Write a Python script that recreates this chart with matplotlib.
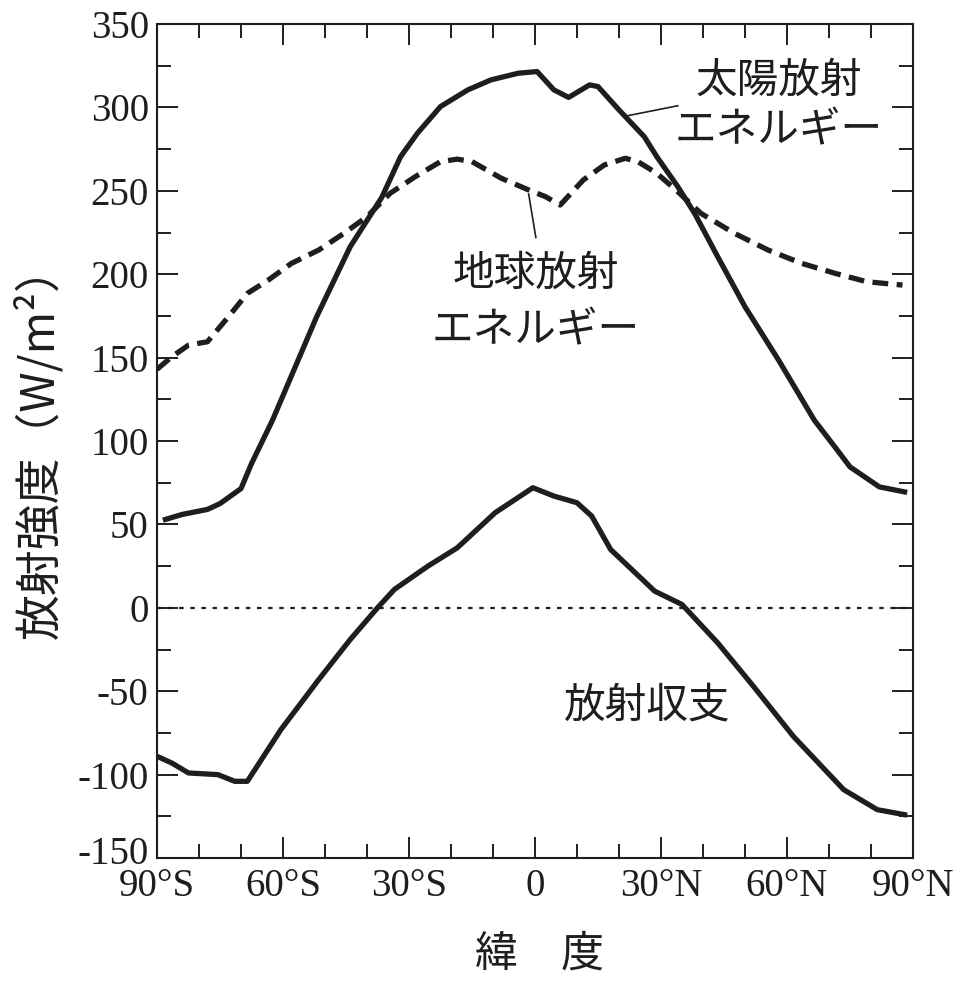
import matplotlib
matplotlib.use("Agg")
import matplotlib.pyplot as plt
from matplotlib.ticker import MultipleLocator
from matplotlib.transforms import ScaledTranslation

# latitude in degrees (south negative), values in W/m2
solar_lat = [-88, -84, -78, -75, -70, -67.5, -62.5, -52, -44, -36.5, -32, -28,
             -22.5, -16, -10.5, -4, 0.5, 4.5, 8, 13, 15, 20, 26, 29, 34, 38,
             43.5, 50, 58, 66.5, 72, 75, 82, 88]
solar_val = [53, 56, 59, 62.5, 71.5, 86.5, 112.5, 174.5, 216.5, 246, 270.5, 284.5,
             300.5, 310.5, 316.5, 320.5, 321.5, 310.5, 306, 313.5, 312.5, 298.5,
             282.5, 270.5, 252.5, 236.5, 210.5, 180.5, 148.5, 112.5, 94.5, 84.5,
             72.5, 69.5]

olr_lat = [-90, -86.5, -82.5, -78, -73, -68.5, -63.5, -58, -51.5, -45.5, -40,
           -34.5, -28.5, -22.5, -18.5, -15, -8, -1.5, 2.5, 6, 11.5, 16.5, 21.5,
           24.5, 29, 34, 39.5, 47.5, 55.5, 63.5, 71.5, 79, 87.5]
olr_val = [143, 150.5, 157.5, 159.5, 174.5, 188.5, 196.5, 206.5, 214.5, 224.5,
           234.5, 248.5, 258.5, 267.5, 269, 267.5, 257.5, 250.5, 246.5, 241.5,
           256.5, 265.5, 269.5, 267.5, 260.5, 249.5, 236.5, 224.5, 214.5, 206.5,
           200.5, 195.5, 193.5]

net_lat = [-90, -86.5, -82.5, -75.5, -71.5, -68.5, -60.5, -51.5, -44, -37.5,
           -33.5, -25.5, -18.5, -9.5, -0.5, 4.5, 10, 13.5, 18, 28.5, 35, 43.5,
           52, 61.5, 73.5, 81.5, 88]
net_val = [-89, -93, -99, -100, -104, -104, -73, -43, -19, 0, 11, 25, 36, 57,
           72, 67, 63, 55, 35, 10, 2, -21, -47, -77, -109, -121, -124]

xticks = [-90, -60, -30, 0, 30, 60, 90]
xlabels = ["90°S", "60°S", "30°S", "0", "30°N", "60°N", "90°N"]

JP = ["Noto Sans CJK JP", "DejaVu Sans"]
SERIF = "Liberation Serif"
INK = "#1e1e1e"

plt.rcParams["axes.unicode_minus"] = False

fig = plt.figure(figsize=(9.54, 9.84), dpi=100)
ax = fig.add_axes([0.1646, 0.128, 0.7924, 0.8476])

ax.plot(solar_lat, solar_val, color=INK, lw=3.8, solid_joinstyle="round")
ax.plot(olr_lat, olr_val, color=INK, lw=3.8, linestyle=(0, (3, 1.6)))
ax.plot(net_lat, net_val, color=INK, lw=3.8, solid_joinstyle="round")
ax.axhline(0, color=INK, lw=1.6, linestyle=(0, (2, 3)))

ax.set_xlim(-90, 90)
ax.set_ylim(-150, 350)
ax.set_xticks(xticks)
ax.set_xticklabels(xlabels)
ax.xaxis.set_minor_locator(MultipleLocator(10))
ax.yaxis.set_major_locator(MultipleLocator(50))
ax.yaxis.set_minor_locator(MultipleLocator(25))
ax.tick_params(which="both", direction="in", top=True, right=True,
               width=1.4, color=INK, labelsize=28, labelcolor=INK)
ax.tick_params(which="major", length=15)
ax.tick_params(which="minor", length=10)
ax.tick_params(axis="x", pad=7)
ax.tick_params(axis="y", pad=6)
for lab in ax.get_xticklabels() + ax.get_yticklabels():
    lab.set_fontfamily(SERIF)
for sp in ax.spines.values():
    sp.set_linewidth(1.5)
    sp.set_color(INK)

# lift the bottom y label a little so it clears 90°S, like the original
fig.canvas.draw()
bottom_lab = ax.get_yticklabels()[0]
for lab in ax.get_yticklabels():
    if lab.get_text() in ("-150",):
        bottom_lab = lab
bottom_lab.set_transform(bottom_lab.get_transform()
                         + ScaledTranslation(0, 8 / 100, fig.dpi_scale_trans))

# labels on the curves
ax.text(58, 316, "太陽放射", family=JP, fontsize=30, ha="center", va="center", color=INK)
ax.text(58, 286, "エネルギー", family=JP, fontsize=30, ha="center", va="center", color=INK)
ax.plot([34, 22], [301, 295], color=INK, lw=1.2)

ax.text(0.2, 200, "地球放射", family=JP, fontsize=30, ha="center", va="center", color=INK)
ax.text(0.2, 166, "エネルギー", family=JP, fontsize=30, ha="center", va="center", color=INK)
ax.plot([0.2, -1.5], [222, 248], color=INK, lw=1.2)

ax.text(26.7, -59, "放射収支", family=JP, fontsize=30, ha="center", va="center", color=INK)

fig.text(0.042, 0.551, "放射強度（W/m²）", family=JP, fontsize=33, rotation=90,
         ha="center", va="center", color=INK)
fig.text(0.566, 0.03, "緯　度", family=JP, fontsize=31, ha="center", va="center", color=INK)

fig.savefig("out.png", dpi=100)
